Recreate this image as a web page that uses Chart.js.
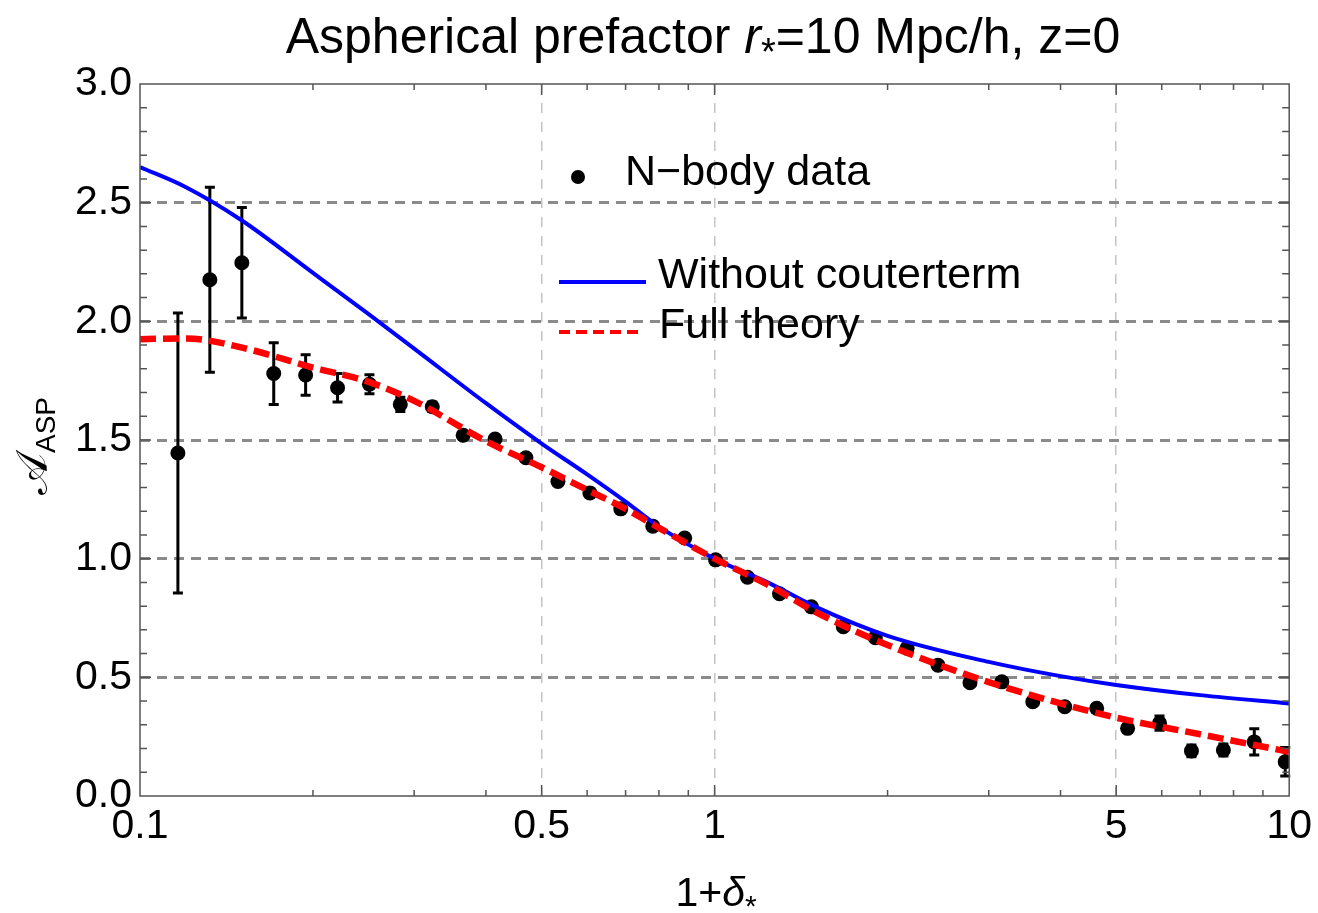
<!DOCTYPE html>
<html>
<head>
<meta charset="utf-8">
<script src="https://cdn.jsdelivr.net/npm/chart.js@4.4.0/dist/chart.umd.min.js"></script>
<style>
  html, body { margin: 0; padding: 0; background: #fff; }
  canvas { display: block; }
</style>
</head>
<body>
<canvas id="aspChart" width="1318" height="913"></canvas>
<script>
// N-body measurements: 1+delta, A_ASP and error bar half-width
const nbodyX = [0.1164, 0.1323, 0.1504, 0.1709, 0.1942, 0.2207, 0.2508, 0.2838, 0.3226, 0.3651,
                0.4149, 0.4695, 0.5338, 0.6067, 0.6866, 0.7806, 0.887, 1.004, 1.141, 1.297,
                1.474, 1.675, 1.904, 2.163, 2.448, 2.783, 3.162, 3.579, 4.068, 4.623,
                5.233, 5.947, 6.759, 7.682, 8.694, 9.842];
const nbodyY = [1.445, 2.175, 2.247, 1.78, 1.774, 1.72, 1.735, 1.65, 1.64, 1.52,
                1.504, 1.425, 1.325, 1.277, 1.21, 1.137, 1.087, 0.995, 0.922, 0.852,
                0.797, 0.713, 0.667, 0.623, 0.551, 0.477, 0.481, 0.397, 0.376, 0.37,
                0.285, 0.307, 0.19, 0.194, 0.228, 0.144];
const nbodyErr = [0.59, 0.39, 0.233, 0.13, 0.085, 0.06, 0.04, 0.03, 0.02, 0.01,
                  0.01, 0.01, 0.01, 0.01, 0.01, 0.01, 0.01, 0.01, 0.01, 0.01,
                  0.01, 0.01, 0.01, 0.01, 0.01, 0.01, 0.01, 0.01, 0.01, 0.01,
                  0.015, 0.03, 0.025, 0.025, 0.055, 0.06];

// theory curves, read on a common grid of 1+delta
const curveX = [0.1, 0.12, 0.15, 0.2, 0.25, 0.3, 0.4, 0.5, 0.6, 0.7,
                0.8, 1, 1.25, 1.5, 2, 3, 4, 5, 7, 10];
const noCounterterm = [2.65, 2.566, 2.427, 2.204, 2.03, 1.885, 1.655, 1.485, 1.355, 1.24,
                       1.135, 1.0, 0.895, 0.797, 0.675, 0.565, 0.505, 0.468, 0.425, 0.39];
const fullTheory = [1.925, 1.928, 1.89, 1.805, 1.745, 1.665, 1.495, 1.385, 1.29, 1.21,
                    1.13, 1.0, 0.885, 0.775, 0.636, 0.48, 0.39, 0.33, 0.26, 0.186];

// axis ticks
const xTickLabels = [0.1, 0.5, 1, 5, 10];
const xMinorTicks = [0.2, 0.3, 0.4, 0.6, 0.7, 0.8, 0.9, 2, 3, 4, 6, 7, 8, 9];
const yMin = 0, yMax = 3, yStep = 0.5;

const FONT = "'Liberation Sans', Arial, sans-serif";

const toPoints = (xs, ys) => xs.map((x, i) => ({ x: x, y: ys[i] }));

// draw a run of text pieces (mixed italic / subscript) centred on cx
function drawRich(ctx, parts, cx, baseY) {
    let total = 0;
    parts.forEach(p => { ctx.font = p.font; total += ctx.measureText(p.t).width; });
    let x = cx - total / 2;
    ctx.textAlign = 'left';
    ctx.textBaseline = 'alphabetic';
    parts.forEach(p => {
        ctx.font = p.font;
        ctx.fillText(p.t, x, baseY + (p.dy || 0));
        x += ctx.measureText(p.t).width;
    });
}

const errorBars = {
    id: 'errorBars',
    beforeDatasetsDraw(chart) {
        const { ctx, scales: { x, y } } = chart;
        ctx.save();
        ctx.strokeStyle = '#000';
        ctx.lineWidth = 3;
        nbodyX.forEach((xv, i) => {
            const px = x.getPixelForValue(xv);
            const top = y.getPixelForValue(nbodyY[i] + nbodyErr[i]);
            const bot = y.getPixelForValue(nbodyY[i] - nbodyErr[i]);
            ctx.beginPath();
            ctx.moveTo(px, top); ctx.lineTo(px, bot);
            ctx.moveTo(px - 5, top); ctx.lineTo(px + 5, top);
            ctx.moveTo(px - 5, bot); ctx.lineTo(px + 5, bot);
            ctx.stroke();
        });
        ctx.restore();
    }
};

const frameAndText = {
    id: 'frameAndText',
    afterDraw(chart) {
        const { ctx, chartArea: a, scales: { x, y } } = chart;
        ctx.save();
        // frame
        ctx.strokeStyle = '#555';
        ctx.lineWidth = 1.5;
        ctx.strokeRect(a.left, a.top, a.right - a.left, a.bottom - a.top);
        // inside tick marks
        ctx.beginPath();
        xMinorTicks.concat([0.5, 1, 5]).forEach(v => {
            const px = x.getPixelForValue(v);
            const len = xTickLabels.includes(v) ? 11 : 6;
            ctx.moveTo(px, a.bottom); ctx.lineTo(px, a.bottom - len);
            ctx.moveTo(px, a.top); ctx.lineTo(px, a.top + len);
        });
        for (let k = 1; k < 30; k++) {
            const py = y.getPixelForValue(k / 10);
            const len = k % 5 === 0 ? 11 : 7;
            ctx.moveTo(a.left, py); ctx.lineTo(a.left + len, py);
            ctx.moveTo(a.right, py); ctx.lineTo(a.right - len, py);
        }
        ctx.stroke();

        ctx.fillStyle = '#000';
        // title
        drawRich(ctx, [
            { t: 'Aspherical prefactor ', font: `50px ${FONT}` },
            { t: 'r', font: `italic 50px ${FONT}` },
            { t: '*', font: `38px ${FONT}`, dy: 12 },
            { t: '=10 Mpc/h, z=0', font: `50px ${FONT}` }
        ], 703, 53);
        // x title
        drawRich(ctx, [
            { t: '1+', font: `41px ${FONT}` },
            { t: 'δ', font: `italic 41px ${FONT}` },
            { t: '*', font: `30px ${FONT}`, dy: 10 }
        ], 716, 906);
        // y title
        ctx.save();
        ctx.translate(47, 446);
        ctx.rotate(-Math.PI / 2);
        drawRich(ctx, [
            { t: '𝒜', font: `44px 'DejaVu Sans', 'DejaVu Serif', serif` },
            { t: 'ASP', font: `28px ${FONT}`, dy: 8 }
        ], 0, 0);
        ctx.restore();

        // legend
        ctx.beginPath();
        ctx.arc(578, 177, 7, 0, Math.PI * 2);
        ctx.fill();
        ctx.font = `43px ${FONT}`;
        ctx.textAlign = 'left';
        ctx.textBaseline = 'alphabetic';
        ctx.fillText('N\u2212body data', 625, 185);
        ctx.fillText('Without couterterm', 658, 288);
        ctx.fillText('Full theory', 659, 338);
        ctx.lineWidth = 4;
        ctx.strokeStyle = '#0000ff';
        ctx.beginPath(); ctx.moveTo(559, 282); ctx.lineTo(646, 282); ctx.stroke();
        ctx.strokeStyle = '#ff0000';
        ctx.setLineDash([11, 6]);
        ctx.beginPath(); ctx.moveTo(559, 332); ctx.lineTo(643, 332); ctx.stroke();
        ctx.restore();
    }
};

new Chart(document.getElementById('aspChart'), {
    type: 'scatter',
    data: {
        datasets: [
            {
                label: 'Full theory',
                data: toPoints(curveX, fullTheory),
                showLine: true,
                borderColor: '#ff0000',
                borderWidth: 6.5,
                borderDash: [16, 7],
                pointRadius: 0,
                cubicInterpolationMode: 'monotone'
            },
            {
                label: 'Without couterterm',
                data: toPoints(curveX, noCounterterm),
                showLine: true,
                borderColor: '#0000ff',
                borderWidth: 4,
                pointRadius: 0,
                cubicInterpolationMode: 'monotone'
            },
            {
                label: 'N-body data',
                data: toPoints(nbodyX, nbodyY),
                pointRadius: 7.5,
                pointBackgroundColor: '#000',
                pointBorderWidth: 0,
                showLine: false
            }
        ]
    },
    options: {
        responsive: false,
        animation: false,
        events: [],
        layout: { padding: { top: 84, right: 26, left: 0, bottom: 0 } },
        plugins: { legend: { display: false }, tooltip: { enabled: false } },
        scales: {
            x: {
                type: 'logarithmic',
                min: 0.1,
                max: 10,
                afterBuildTicks: scale => {
                    scale.ticks = xTickLabels.concat(xMinorTicks).sort((a, b) => a - b).map(v => ({ value: v }));
                },
                afterFit: scale => { scale.height = 117; },
                ticks: {
                    autoSkip: false,
                    maxRotation: 0,
                    padding: 6,
                    color: '#000',
                    font: { family: FONT, size: 41 },
                    callback: v => xTickLabels.includes(v) ? String(v) : ''
                },
                grid: {
                    drawTicks: false,
                    lineWidth: 1.5,
                    color: c => [0.5, 1, 5].includes(c.tick && c.tick.value) ? '#c4c4c4' : 'rgba(0,0,0,0)'
                },
                border: { display: false, dash: [10, 9] }
            },
            y: {
                min: yMin,
                max: yMax,
                afterFit: scale => { scale.width = 140; },
                ticks: {
                    stepSize: yStep,
                    padding: 8,
                    color: '#000',
                    font: { family: FONT, size: 41 },
                    callback: v => v.toFixed(1)
                },
                grid: {
                    drawTicks: false,
                    lineWidth: 3,
                    color: c => {
                        const v = c.tick && c.tick.value;
                        return (v > yMin && v < yMax) ? '#8a8a8a' : 'rgba(0,0,0,0)';
                    }
                },
                border: { display: false, dash: [10, 7] }
            }
        }
    },
    plugins: [errorBars, frameAndText]
});
</script>
</body>
</html>
